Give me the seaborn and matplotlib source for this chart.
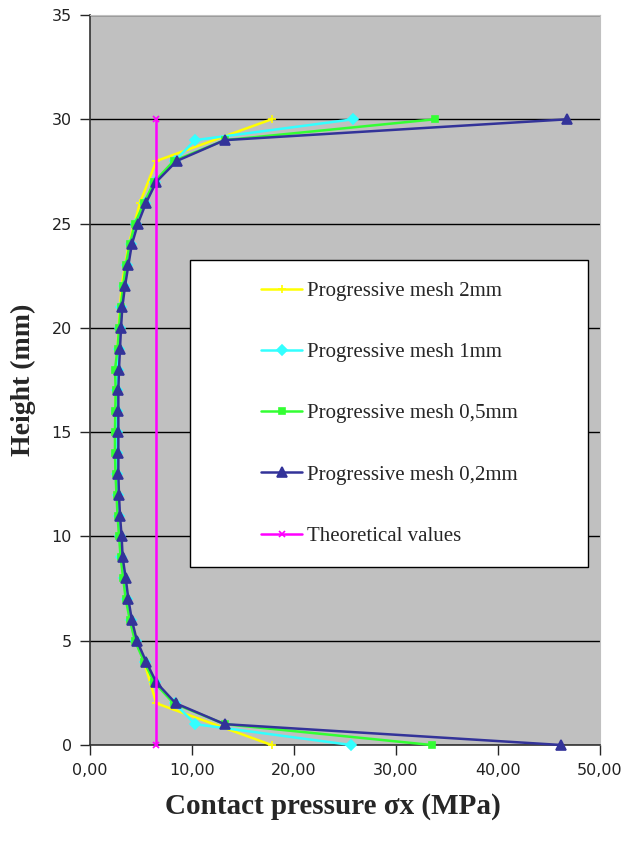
import numpy as np
import pandas as pd
import seaborn as sns
import matplotlib
matplotlib.use('Agg')
from matplotlib import pyplot as plt
from matplotlib.patches import Rectangle
from matplotlib.ticker import FuncFormatter

"""
# Data (read off the reference picture)
"""
HEIGHT_1MM = list(range(0, 31))
HEIGHT_2MM = list(range(0, 31, 2))

MESH_2MM = [17.8, 6.5, 5.3, 4.0, 3.3, 2.9, 2.7, 2.55, 2.5, 2.6, 2.8, 3.1, 3.8,
            4.9, 6.5, 17.8]
MESH_1MM = [25.6, 10.3, 8.3, 6.4, 5.4, 4.5, 4.0, 3.6, 3.35, 3.05, 2.95, 2.8,
            2.7, 2.65, 2.62, 2.62, 2.62, 2.65, 2.7, 2.8, 2.95, 3.05, 3.35, 3.6,
            4.0, 4.5, 5.4, 6.4, 8.3, 10.3, 25.8]
MESH_05MM = [33.5, 13.2, 8.2, 6.3, 5.3, 4.4, 3.9, 3.5, 3.25, 3.0, 2.85, 2.7,
             2.6, 2.5, 2.45, 2.45, 2.48, 2.52, 2.45, 2.7, 2.85, 3.0, 3.25, 3.5,
             3.9, 4.4, 5.3, 6.3, 8.2, 13.2, 33.8]
MESH_02MM = [46.2, 13.2, 8.4, 6.5, 5.5, 4.6, 4.1, 3.76, 3.5, 3.2, 3.1, 2.94,
             2.84, 2.78, 2.78, 2.78, 2.78, 2.78, 2.84, 2.94, 3.04, 3.17, 3.43,
             3.76, 4.1, 4.7, 5.5, 6.5, 8.5, 13.2, 46.8]
THEORY_HEIGHT = [0, 30]
THEORY = [6.5, 6.5]

LABELS = ['Progressive mesh 2mm', 'Progressive mesh 1mm',
          'Progressive mesh 0,5mm', 'Progressive mesh 0,2mm',
          'Theoretical values']
COLORS = ['#ffff00', '#33ffff', '#33ff33', '#333399', '#ff00ff']
MARKERS = ['+', 'D', 's', '^', 'x']
MSIZES = [6, 5, 5, 6.5, 5]

series = [(HEIGHT_2MM, MESH_2MM), (HEIGHT_1MM, MESH_1MM),
          (HEIGHT_1MM, MESH_05MM), (HEIGHT_1MM, MESH_02MM),
          (THEORY_HEIGHT, THEORY)]

"""
# Plot
"""
sns.set_style('ticks')
plt.rcParams['font.family'] = ['DejaVu Sans']

fig = plt.figure(figsize=(6.29, 8.43), dpi=100)
ax = fig.add_axes([90 / 629, 1 - 745 / 843, 510 / 629, 730 / 843])
ax.set_facecolor('#c0c0c0')

for (h, p), lab, col, mk, ms in zip(series, LABELS, COLORS, MARKERS, MSIZES):
    sdf = pd.DataFrame({'height': h, 'pressure': p})
    sns.lineplot(data=sdf, x='pressure', y='height', color=col, marker=mk,
                 markersize=ms, markeredgecolor=col, markeredgewidth=1.2,
                 linewidth=1.8, estimator=None, sort=False, label=lab,
                 clip_on=False, zorder=3, ax=ax)

ax.set_xlim(0, 50)
ax.set_ylim(0, 35)
ax.set_xticks(np.arange(0, 51, 10))
ax.set_yticks(np.arange(0, 36, 5))
ax.xaxis.set_major_formatter(FuncFormatter(lambda v, p: f'{v:.2f}'.replace('.', ',')))
ax.yaxis.set_major_formatter(FuncFormatter(lambda v, p: f'{int(v)}'))
ax.tick_params(axis='both', direction='out', length=7, width=1,
               labelsize=11.5, labelcolor='#222222', pad=6)
ax.yaxis.grid(True, color='black', linewidth=1)
ax.set_axisbelow(True)
for side in ['top', 'right']:
    ax.spines[side].set_color('#c0c0c0')
for side in ['left', 'bottom']:
    ax.spines[side].set_color('#333333')
    ax.spines[side].set_linewidth(1.2)

ax.set_xlabel('Contact pressure σx (MPa)', family='Liberation Serif',
              fontweight='bold', fontsize=21, labelpad=11)
ax.xaxis.label.set_x(0.477)
ax.set_ylabel('Height (mm)', family='Liberation Serif', fontweight='bold',
              fontsize=20, labelpad=11)

# legend box
ax.add_patch(Rectangle((100 / 510, 178 / 730), 398 / 510, 307 / 730,
                       transform=ax.transAxes, facecolor='white',
                       edgecolor='black', linewidth=1, zorder=4))
handles, labels = ax.get_legend_handles_labels()
leg = ax.legend(handles, labels, loc='center', frameon=False,
                bbox_to_anchor=((100 + 199) / 510, (178 + 153.5) / 730),
                prop={'family': 'Liberation Serif', 'size': 15},
                labelspacing=2.0, handlelength=2.0, handletextpad=0.2)
leg.set_zorder(5)

fig.savefig('out.png', dpi=100, facecolor='white')
